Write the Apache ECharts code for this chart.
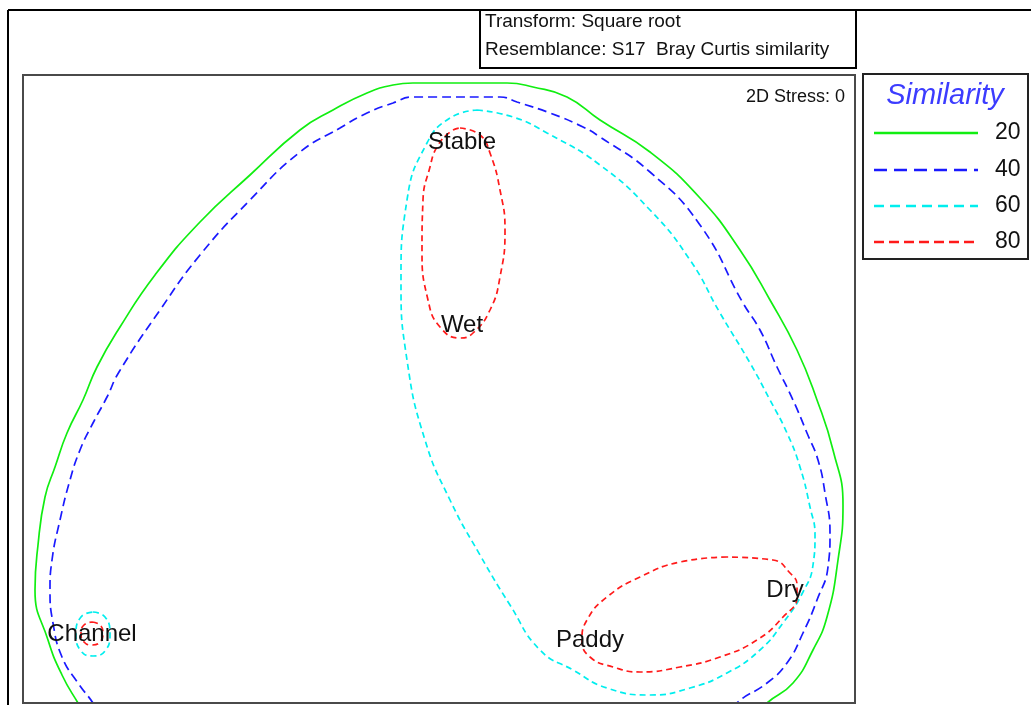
<!DOCTYPE html>
<html><head><meta charset="utf-8">
<script src="https://cdn.jsdelivr.net/npm/echarts@6/dist/echarts.min.js"></script>
<style>html,body{margin:0;padding:0;background:#fff;}#c{width:1031px;height:705px;}</style>
</head><body><div id="c"></div>
<script>
// ---- data (nMDS coordinates) ----
const sampleNames = ['Stable', 'Wet', 'Channel', 'Paddy', 'Dry'];
const sampleX = [0.115, 0.115, -1.735, 0.755, 1.73];
const sampleY = [1.235, 0.32, -1.225, -1.255, -1.005];

const levels = ['20', '40', '60', '80'];
const levelColors = ['#11ee11', '#1a1aff', '#00eeee', '#ff1a1a'];

// similarity contours (x, y in MDS units)
const contour20 = [[1.505,-1.705],[1.64,-1.57],[1.77,-1.47],[1.87,-1.305],[1.94,-1.14],[1.995,-0.855],[2.02,-0.58],[1.97,-0.305],[1.89,-0.055],[1.79,0.195],[1.655,0.445],[1.505,0.695],[1.305,0.955],[1.055,1.185],[0.805,1.345],[0.64,1.46],[0.47,1.51],[0.34,1.53],[-0.13,1.53],[-0.23,1.52],[-0.36,1.48],[-0.53,1.395],[-0.695,1.295],[-0.945,1.07],[-1.195,0.835],[-1.42,0.57],[-1.595,0.31],[-1.71,0.11],[-1.78,-0.055],[-1.86,-0.22],[-1.92,-0.39],[-1.97,-0.54],[-2.005,-0.78],[-2.02,-1.005],[-1.955,-1.255],[-1.885,-1.43],[-1.805,-1.57],[-1.72,-1.705]];
const contour40 = [[1.38,-1.705],[1.49,-1.57],[1.64,-1.47],[1.74,-1.37],[1.82,-1.22],[1.89,-1.055],[1.945,-0.89],[1.955,-0.72],[1.93,-0.52],[1.895,-0.355],[1.84,-0.22],[1.77,-0.055],[1.69,0.11],[1.605,0.295],[1.52,0.43],[1.305,0.82],[1.055,1.085],[0.805,1.26],[0.72,1.31],[0.555,1.38],[0.39,1.435],[0.305,1.46],[-0.13,1.46],[-0.23,1.43],[-0.36,1.38],[-0.495,1.305],[-0.695,1.185],[-0.945,0.945],[-1.195,0.67],[-1.395,0.395],[-1.6,0.085],[-1.66,-0.04],[-1.73,-0.17],[-1.795,-0.305],[-1.845,-0.455],[-1.895,-0.655],[-1.935,-0.855],[-1.945,-1.005],[-1.93,-1.17],[-1.885,-1.34],[-1.805,-1.47],[-1.73,-1.57],[-1.645,-1.705]];
const contour60Main = [[0.19,1.395],[0.37,1.36],[0.54,1.28],[0.805,1.12],[1.055,0.895],[1.255,0.645],[1.405,0.38],[1.555,0.13],[1.655,-0.055],[1.74,-0.22],[1.805,-0.39],[1.855,-0.59],[1.88,-0.73],[1.87,-0.88],[1.82,-1.015],[1.72,-1.17],[1.605,-1.305],[1.44,-1.42],[1.255,-1.495],[1.055,-1.53],[0.84,-1.495],[0.67,-1.405],[0.505,-1.305],[0.355,-1.08],[0.205,-0.83],[0.055,-0.555],[-0.07,-0.255],[-0.16,0.145],[-0.19,0.545],[-0.16,0.945],[-0.06,1.23],[0.055,1.355],[0.19,1.395]];
const contour60Channel = [[-1.73,-1.115],[-1.67,-1.14],[-1.645,-1.225],[-1.67,-1.31],[-1.73,-1.335],[-1.79,-1.31],[-1.815,-1.225],[-1.79,-1.14],[-1.73,-1.115]];
const contour80StableWet = [[0.105,1.305],[0.205,1.27],[0.255,1.18],[0.305,0.995],[0.33,0.795],[0.305,0.56],[0.255,0.395],[0.17,0.28],[0.105,0.255],[0.005,0.31],[-0.055,0.445],[-0.085,0.695],[-0.08,0.945],[-0.045,1.11],[-0.01,1.21],[0.055,1.285],[0.105,1.305]];
const contour80PaddyDry = [[1.44,-0.84],[1.205,-0.865],[1.005,-0.94],[0.84,-1.04],[0.74,-1.155],[0.715,-1.255],[0.755,-1.34],[0.87,-1.39],[1.005,-1.415],[1.205,-1.39],[1.405,-1.34],[1.59,-1.255],[1.72,-1.14],[1.79,-1.04],[1.79,-0.98],[1.755,-0.92],[1.67,-0.855],[1.44,-0.84]];
const contour80Channel = [[-1.735,-1.165],[-1.695,-1.18],[-1.68,-1.22],[-1.695,-1.265],[-1.735,-1.28],[-1.775,-1.265],[-1.79,-1.22],[-1.775,-1.18],[-1.735,-1.165]];

const titleLines = ['Transform: Square root', 'Resemblance: S17  Bray Curtis similarity'];
const stressText = '2D Stress: 0';
const legendTitle = 'Similarity';

// ---- chart ----
const dashes = [null, [9, 5], [6, 4], [6, 4]];
const legendDashes = [null, [13, 7], [10, 6], [10, 5]];
const contourSets = [
  [contour20],
  [contour40],
  [contour60Main, contour60Channel],
  [contour80StableWet, contour80PaddyDry, contour80Channel]
];

const series = [];
contourSets.forEach((set, li) => {
  set.forEach(pts => {
    series.push({
      type: 'line', name: levels[li], data: pts, smooth: 0.5, symbol: 'none',
      clip: true, silent: true, animation: false, z: 2,
      lineStyle: { color: levelColors[li], width: 1.7, type: dashes[li] || 'solid' }
    });
  });
});
series.push({
  type: 'scatter', name: 'samples', symbolSize: 0, animation: false, z: 5,
  itemStyle: { opacity: 1 },
  data: sampleNames.map((n, i) => ({ name: n, value: [sampleX[i], sampleY[i]] })),
  label: { show: true, position: 'inside', formatter: p => p.name, opacity: 1,
    fontFamily: 'Liberation Sans', fontSize: 24, color: '#111' }
});

const graphics = [
  { type: 'line', shape: { x1: 8, y1: 10, x2: 8, y2: 705 }, style: { stroke: '#000', lineWidth: 2 } },
  { type: 'line', shape: { x1: 8, y1: 10, x2: 1031, y2: 10 }, style: { stroke: '#000', lineWidth: 2 } },
  { type: 'rect', shape: { x: 480, y: 10, width: 376, height: 58 }, style: { fill: 'none', stroke: '#000', lineWidth: 2 } },
  { type: 'rect', shape: { x: 23, y: 75, width: 832, height: 628 }, style: { fill: 'none', stroke: '#4a4a4a', lineWidth: 2 }, z: 10 },
  { type: 'rect', shape: { x: 863, y: 74, width: 165, height: 185 }, style: { fill: 'none', stroke: '#222', lineWidth: 2 } },
  { type: 'text', x: 485, y: 22, style: { text: titleLines[0], font: '19px "Liberation Sans"', fill: '#111', textVerticalAlign: 'middle' } },
  { type: 'text', x: 485, y: 50, style: { text: titleLines[1], font: '19px "Liberation Sans"', fill: '#111', textVerticalAlign: 'middle' } },
  { type: 'text', x: 845, y: 97, style: { text: stressText, font: '18px "Liberation Sans"', fill: '#111', textAlign: 'right', textVerticalAlign: 'middle' } },
  { type: 'text', x: 945, y: 96, style: { text: legendTitle, font: 'italic 29px "Liberation Sans"', fill: '#3c3cff', textAlign: 'center', textVerticalAlign: 'middle' } }
];
const legendY = [133, 170, 206, 242];
levels.forEach((lv, i) => {
  graphics.push({ type: 'line', shape: { x1: 874, y1: legendY[i], x2: 978, y2: legendY[i] },
    style: { stroke: levelColors[i], lineWidth: 2.5, lineDash: legendDashes[i] || null } });
  graphics.push({ type: 'text', x: 995, y: legendY[i], style: { text: lv, font: '23px "Liberation Sans"', fill: '#111', textVerticalAlign: 'middle' } });
});

const chart = echarts.init(document.getElementById('c'), null, { renderer: 'canvas' });
chart.setOption({
  backgroundColor: '#fff',
  animation: false,
  grid: { left: 23, top: 75, right: 176, bottom: 2, containLabel: false },
  xAxis: { type: 'value', min: -2.08, max: 2.08, show: false, splitLine: { show: false } },
  yAxis: { type: 'value', min: -1.57, max: 1.57, show: false, splitLine: { show: false } },
  series: series,
  graphic: graphics
});
</script></body></html>
